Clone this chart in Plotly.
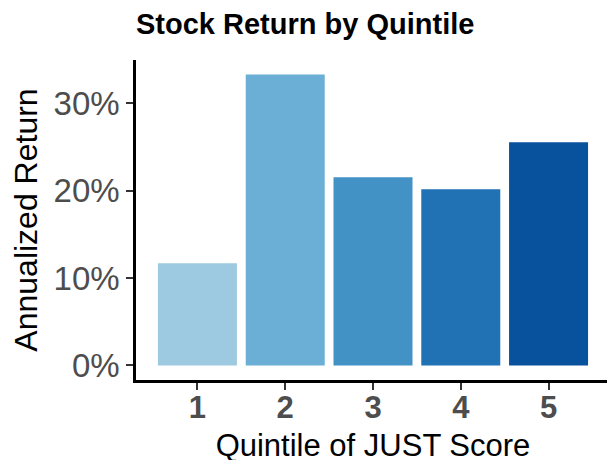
import plotly.graph_objects as go

quintiles = [1, 2, 3, 4, 5]
returns_pct = [11.68, 33.26, 21.52, 20.15, 25.51]
bar_colors = ["#9ECAE1", "#6BAED6", "#4292C6", "#2171B5", "#08519C"]
y_tick_vals = [0, 10, 20, 30]
y_tick_text = ["0%", "10%", "20%", "30%"]

fig = go.Figure(
    go.Bar(
        x=quintiles,
        y=returns_pct,
        marker=dict(color=bar_colors, line=dict(width=0)),
        width=0.9,
    )
)

font_family = "Liberation Sans, Arial, sans-serif"

fig.update_layout(
    width=615,
    height=460,
    margin=dict(l=128, r=13, t=52, b=88),
    plot_bgcolor="white",
    paper_bgcolor="white",
    showlegend=False,
    font=dict(family=font_family, color="black"),
    title=dict(
        text="<b>Stock Return by Quintile</b>",
        x=0.0,
        xref="paper",
        xanchor="left",
        y=1 - 15.5 / 460,
        yref="container",
        yanchor="middle",
        font=dict(size=29, color="black", family=font_family),
    ),
)

fig.update_xaxes(
    range=[0.3, 5.7],
    tickvals=quintiles,
    ticktext=[str(q) for q in quintiles],
    showline=True,
    linecolor="black",
    linewidth=2.5,
    ticks="outside",
    ticklen=7,
    tickwidth=2,
    tickcolor="#333333",
    ticklabelstandoff=-9,
    showgrid=False,
    zeroline=False,
    automargin=False,
    tickfont=dict(size=31, color="#4D4D4D", family=font_family, weight="bold"),
    title=dict(text="Quintile of JUST Score", font=dict(size=31, color="black"), standoff=11),
)

fig.update_yaxes(
    range=[-1.66, 34.92],
    tickvals=y_tick_vals,
    ticktext=y_tick_text,
    showline=True,
    linecolor="black",
    linewidth=2.5,
    ticks="outside",
    ticklen=7,
    tickwidth=2,
    tickcolor="#333333",
    showgrid=False,
    zeroline=False,
    automargin=False,
    tickfont=dict(size=33, color="#4D4D4D", family=font_family),
    title=dict(text="Annualized Return", font=dict(size=32, color="black"), standoff=9),
)

fig.write_html("out.html")
